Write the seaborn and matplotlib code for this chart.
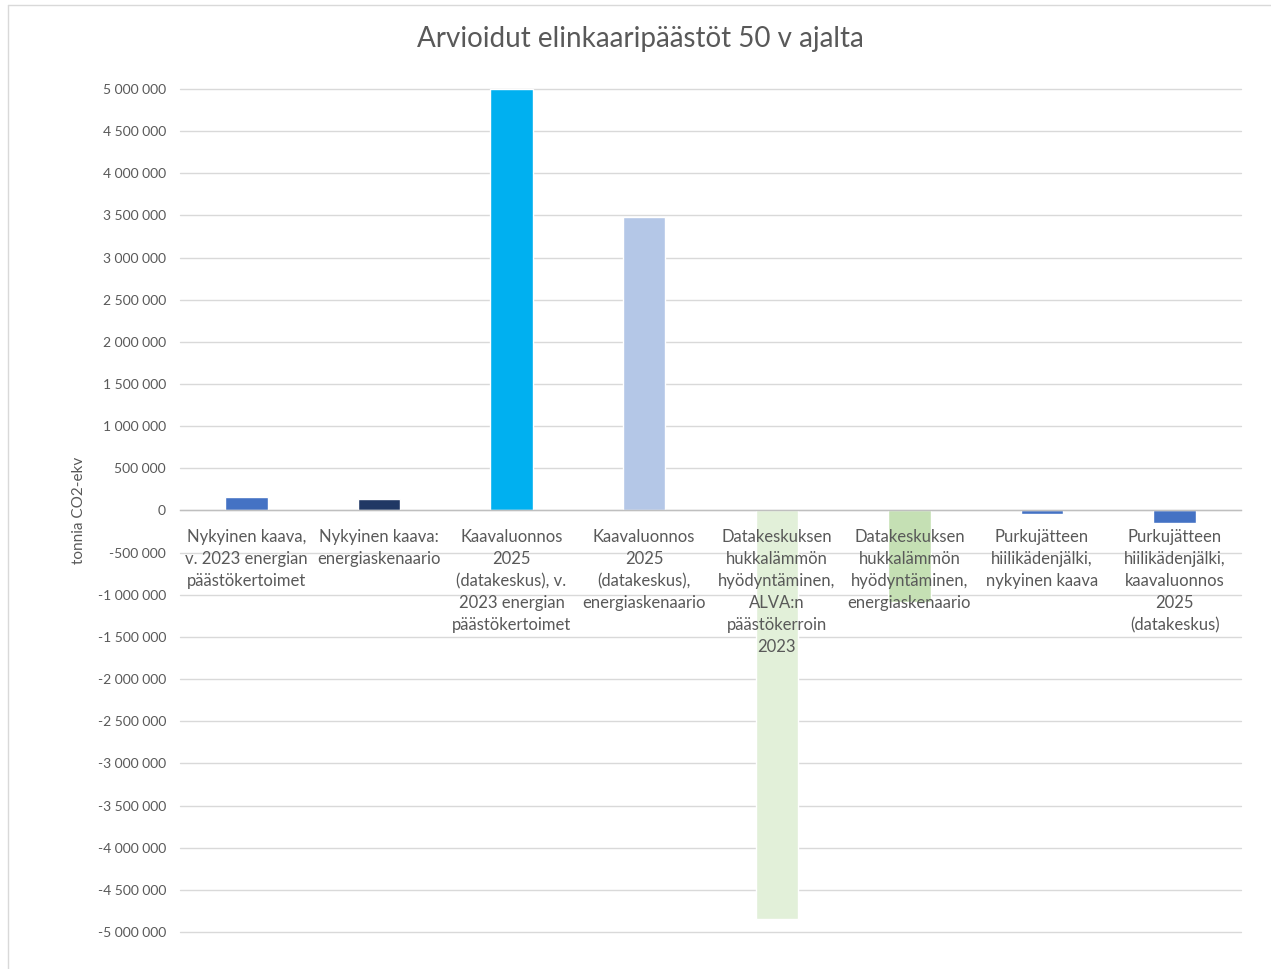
import matplotlib
matplotlib.use("Agg")
import matplotlib.pyplot as plt
import matplotlib.ticker as mticker
import seaborn as sns
import pandas as pd
import numpy as np

categories = [
    "Nykyinen kaava,\nv. 2023 energian\npäästökertoimet",
    "Nykyinen kaava:\nenergiaskenaario",
    "Kaavaluonnos\n2025\n(datakeskus), v.\n2023 energian\npäästökertoimet",
    "Kaavaluonnos\n2025\n(datakeskus),\nenergiaskenaario",
    "Datakeskuksen\nhukkalämmön\nhyödyntäminen,\nALVA:n\npäästökerroin\n2023",
    "Datakeskuksen\nhukkalämmön\nhyödyntäminen,\nenergiaskenaario",
    "Purkujätteen\nhiilikädenjälki,\nnykyinen kaava",
    "Purkujätteen\nhiilikädenjälki,\nkaavaluonnos\n2025\n(datakeskus)",
]
values = [163000, 139000, 5000000, 3476000, -4840000, -1080000, -40000, -146000]
colors = ["#4472C4", "#203864", "#00B0F0", "#B4C7E7", "#E2F0D9", "#C5E0B4", "#4472C4", "#4472C4"]
title = "Arvioidut elinkaaripäästöt 50 v ajalta"
ylabel = "tonnia CO2-ekv"

sns.set_theme(style="white")
plt.rcParams["font.family"] = ["Lato", "DejaVu Sans"]

df = pd.DataFrame({"cat": categories, "val": values})

fig = plt.figure(figsize=(12.71, 9.69), dpi=100)
ax = fig.add_axes([180/1271, 1-932/969, (1241-180)/1271, (932-89)/969])

sns.barplot(data=df, x="cat", y="val", hue="cat", palette=colors, legend=False,
            width=0.32, ax=ax, saturation=1, zorder=2)

ax.set_ylim(-5000000, 5000000)
ax.set_xlim(-0.5, len(categories)-0.5)
ax.yaxis.set_major_locator(mticker.MultipleLocator(500000))
ax.yaxis.set_major_formatter(mticker.FuncFormatter(lambda v, p: f"{v:,.0f}".replace(",", " ")))
ax.grid(axis="y", color="#D9D9D9", linewidth=1.0)
ax.grid(axis="x", visible=False)
for line in ax.get_ygridlines():
    line.set_clip_on(False)
ax.yaxis.set_zorder(0.5)
ax.xaxis.set_zorder(5)
for s in ["left", "right", "top"]:
    ax.spines[s].set_visible(False)
ax.spines["bottom"].set_position(("data", 0))
ax.spines["bottom"].set_color("#BFBFBF")
ax.spines["bottom"].set_linewidth(1.0)
ax.spines["bottom"].set_zorder(4)

ax.tick_params(axis="y", length=0, labelsize=10, labelcolor="#595959", pad=10)
ax.set_xticks(range(len(categories)))
ax.set_xticklabels(categories, fontsize=12, color="#595959", linespacing=1.47, va="top")
ax.tick_params(axis="x", which="major", length=0, pad=13)
ax.set_xticks(np.arange(-0.5, len(categories), 1.0), minor=True)
ax.tick_params(axis="x", which="minor", length=6, color="#BFBFBF", width=1)
ax.set_xlabel("")
ax.set_ylabel(ylabel, fontsize=11, color="#595959")
ax.yaxis.set_label_coords((86-180)/(1241-180), 0.5)

fig.text(640/1271, 1-39/969, title, ha="center", va="center", fontsize=20,
         color="#595959")

# chart area border (left and top)
fig.add_artist(plt.Line2D([8/1271, 8/1271], [0, 1-5/969], color="#D9D9D9", linewidth=1, transform=fig.transFigure))
fig.add_artist(plt.Line2D([8/1271, 1], [1-5/969, 1-5/969], color="#D9D9D9", linewidth=1, transform=fig.transFigure))

fig.savefig("out.png", dpi=100, facecolor="white")
